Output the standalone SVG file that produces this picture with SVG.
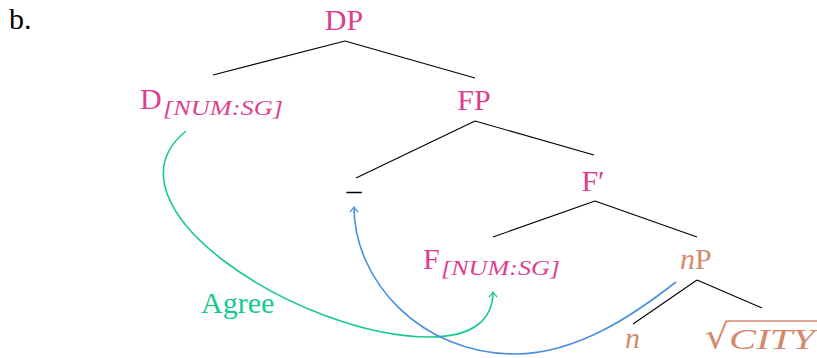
<svg xmlns="http://www.w3.org/2000/svg" width="817" height="358" viewBox="0 0 817 358">
<defs>
<style>
text{font-family:"Liberation Serif","Times New Roman",serif;font-size:30px}
.pk{fill:#DE3E8D}
.sl{fill:#D58A6E}
.sub{font-size:20px;font-style:italic}
.it{font-style:italic}
.edge{stroke:#000;stroke-width:1.1;fill:none}
.agree{stroke:#17C98F;stroke-width:1.6;fill:none}
.move{stroke:#4A8FE0;stroke-width:1.6;fill:none}
</style>
<marker id="ahG" viewBox="-6 -5 8 10" markerWidth="8" markerHeight="10" refX="0" refY="0" orient="auto" markerUnits="userSpaceOnUse">
<path d="M-5,-4 Q-1.5,-1 0,0 Q-1.5,1 -5,4" fill="none" stroke="#17C98F" stroke-width="1.3"/>
</marker>
<marker id="ahB" viewBox="-6 -5 8 10" markerWidth="8" markerHeight="10" refX="0" refY="0" orient="auto" markerUnits="userSpaceOnUse">
<path d="M-5,-4 Q-1.5,-1 0,0 Q-1.5,1 -5,4" fill="none" stroke="#4A8FE0" stroke-width="1.3"/>
</marker>
</defs>
<text x="9" y="29">b.</text>
<g id="connectors">
<line class="edge" x1="345" y1="41" x2="213" y2="75"/>
<line class="edge" x1="345" y1="41" x2="475" y2="78"/>
<line class="edge" x1="475" y1="121" x2="356" y2="178"/>
<line class="edge" x1="475" y1="121" x2="594" y2="155"/>
<line class="edge" x1="595" y1="201" x2="493" y2="237"/>
<line class="edge" x1="595" y1="201" x2="697" y2="237"/>
<line class="edge" x1="697" y1="280" x2="633" y2="324"/>
<line class="edge" x1="697" y1="280" x2="762" y2="308"/>
<path class="agree" d="M186,131 C95,205 300,337 430,337 C475,337 493,318 493,292" marker-end="url(#ahG)"/>
<path class="move" d="M676,282 C640,310 580,354 515,354 C420,354 354,280 354,207" marker-end="url(#ahB)"/>
<text x="201" y="313" fill="#17C98F">Agree</text>
</g>
<g id="DP"><text class="pk" x="344" y="30" text-anchor="middle">DP</text></g>
<g id="D"><text class="pk" x="140" y="109">D</text><text class="pk sub" x="163" y="115" textLength="120" lengthAdjust="spacingAndGlyphs">[NUM:SG]</text></g>
<g id="FP"><text class="pk" x="474" y="110" text-anchor="middle">FP</text></g>
<g id="trace"><text x="354" y="200" text-anchor="middle">–</text></g>
<g id="Fbar"><text class="pk" x="593" y="191" text-anchor="middle">F′</text></g>
<g id="F"><text class="pk" x="423" y="269">F</text><text class="pk sub" x="441" y="275" textLength="119" lengthAdjust="spacingAndGlyphs">[NUM:SG]</text></g>
<g id="nP"><text class="sl" x="680" y="269"><tspan class="it">n</tspan>P</text></g>
<g id="n"><text class="sl it" x="625" y="348">n</text></g>
<g id="root"><text class="sl" x="705" y="348" style="font-family:'DejaVu Serif',serif;font-size:34px" textLength="24" lengthAdjust="spacingAndGlyphs">√</text><line x1="728" y1="321" x2="817" y2="321" stroke="#D58A6E" stroke-width="1.3"/><text class="sl it" x="729" y="349" textLength="86" lengthAdjust="spacingAndGlyphs">CITY</text></g>
</svg>
